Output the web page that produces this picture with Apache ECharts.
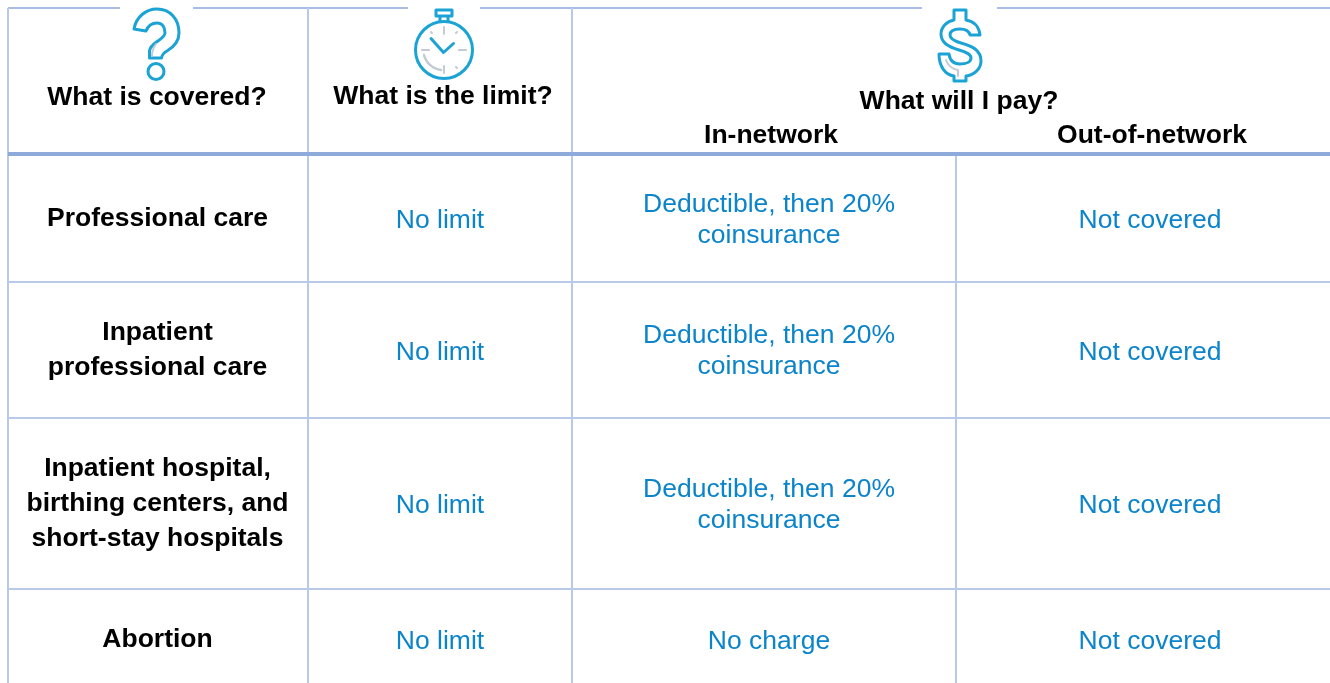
<!DOCTYPE html>
<html>
<head>
<meta charset="utf-8">
<title>Coverage table</title>
<style>
html,body{margin:0;padding:0;background:#fff;}
#chart{width:1330px;height:683px;}
</style>
<script src="https://cdn.jsdelivr.net/npm/echarts@6/dist/echarts.min.js"></script>
</head>
<body>
<div id="chart"></div>
<script>
// table content
const headers = ['What is covered?', 'What is the limit?', 'What will I pay?', 'In-network', 'Out-of-network'];
const covered = [
	['Professional care'],
	['Inpatient', 'professional care'],
	['Inpatient hospital,', 'birthing centers, and', 'short-stay hospitals'],
	['Abortion']
];
const limits = ['No limit', 'No limit', 'No limit', 'No limit'];
const in_network = [
	['Deductible, then 20%', 'coinsurance'],
	['Deductible, then 20%', 'coinsurance'],
	['Deductible, then 20%', 'coinsurance'],
	['No charge']
];
const out_network = ['Not covered', 'Not covered', 'Not covered', 'Not covered'];

// layout, in page pixels
const W = 1330, H = 683;
const LINE = '#b9c9e8', LINE_TOP = '#a9bee6', LINE_DARK = '#8eaadb', BLUE = '#0b84cb', ICON = '#1ba3d6', ICON_GREY = '#c3cbd6';
const FONT = '"Liberation Sans", Arial, sans-serif';
const row_mid = [219, 350.5, 504, 640];
const LINE_GAP = 35, BLUE_GAP = 31;

let els = [];
let icon_count = 0;

function line(x1, y1, x2, y2, color, width){
	els.push({type:'line', shape:{x1, y1, x2, y2}, style:{stroke:color, lineWidth:width}, silent:true});
}
function text(str, x, y, bold){
	els.push({type:'text', x, y, silent:true, style:{
		text:str, x:0, y:0, align:'center', verticalAlign:'middle',
		font:`${bold ? 'bold ' : ''}26.5px ${FONT}`,
		fill:bold ? '#000' : BLUE
	}});
}
function lines(list, x, mid, gap, bold){
	let top = mid - gap*(list.length-1)/2;
	list.forEach((s, i) => text(s, x, top + i*gap, bold));
}
function icon(path, color, width){
	// registered as a shape so the path stays at its own coordinates
	let name = 'table_icon_' + (icon_count++);
	echarts.graphic.registerShape(name, echarts.graphic.extendPath(path, {}));
	els.push({type:name, silent:true, style:{fill:'none', stroke:color, lineWidth:width, lineJoin:'round', lineCap:'round'}});
}

// grid lines
line(8, 8, 120, 8, LINE_TOP, 2);
line(193, 8, 408, 8, LINE_TOP, 2);
line(480, 8, 922, 8, LINE_TOP, 2);
line(997, 8, W, 8, LINE_TOP, 2);
line(8, 8, 8, H, LINE, 2);
line(308, 8, 308, H, LINE, 2);
line(572, 8, 572, H, LINE, 2);
line(956, 155, 956, H, LINE, 2);
[282, 418, 589].forEach(y => line(8, y, W, y, LINE, 2));
line(8, 154, W, 154, LINE_DARK, 4);

// icons
icon('M134,29 C136,17 146,9 157,9 C170,9 179,19 179,33 C179,43 172,48 167,51 C163,53 162,55 161.5,58 L149.5,58 L149.5,51 C150,46 154,44 158,41 C162,38 165,36 165,33 C165,27 162,23 157,23 C151,23 148,26 146,31 Z', ICON, 3);
icon('M164,71.5 A8,8 0 1 1 148,71.5 A8,8 0 1 1 164,71.5 Z', ICON, 3);
icon('M156,44 C153,48 152,52 152,56', ICON_GREY, 2);
icon('M472.5,50 A28.5,28.5 0 1 1 415.5,50 A28.5,28.5 0 1 1 472.5,50 Z', ICON, 3);
icon('M436,10 L452,10 L452,16 L436,16 Z M440,16 L440,21 M448,16 L448,21', ICON, 3);
icon('M431,38.5 L443.5,52.5 L453.5,43.5', ICON, 3);
icon('M444,27 L444,34 M444,66 L444,73 M422,50 L429,50 M459,50 L466,50 M456,33 L457,32 M432,33 L431,32 M456,67 L457,68', ICON_GREY, 2);
icon('M424,55 C426,63 433,69 441,70', ICON_GREY, 2.5);
icon('M954,10 L966,10 L966,20 C974,21 979,27 980,35 L970,35 C969,31 965,29 960,29 C954,29 950,31 950,35 C950,39 954,41 961,43 C972,46 981,50 981,61 C981,69 974,75 966,76 L966,81 L954,81 L954,76 C945,75 939,66 939,54 L949,54 C950,61 954,64 960,64 C966,64 971,62 971,58 C971,54 966,52 959,50 C949,47 941,43 941,34 C941,27 947,21 954,20 Z', ICON, 3);
icon('M946,60 C948,66 952,69 958,70 L958,76', ICON_GREY, 2);

// header text
text(headers[0], 157, 98, true);
text(headers[1], 443, 97, true);
text(headers[2], 959, 102, true);
text(headers[3], 771, 136, true);
text(headers[4], 1152, 136, true);

// body text
covered.forEach((c, i) => lines(c, 157.5, row_mid[i], LINE_GAP, true));
limits.forEach((c, i) => text(c, 440, row_mid[i] + 2, false));
in_network.forEach((c, i) => lines(c, 769, row_mid[i] + (c.length > 1 ? 1 : 2), BLUE_GAP, false));
out_network.forEach((c, i) => text(c, 1150, row_mid[i] + 2, false));

let myChart = echarts.init(document.getElementById('chart'), null, {renderer:'canvas'});
myChart.setOption({
	backgroundColor:'#fff',
	animation:false,
	graphic:{elements:els}
});
</script>
</body>
</html>
